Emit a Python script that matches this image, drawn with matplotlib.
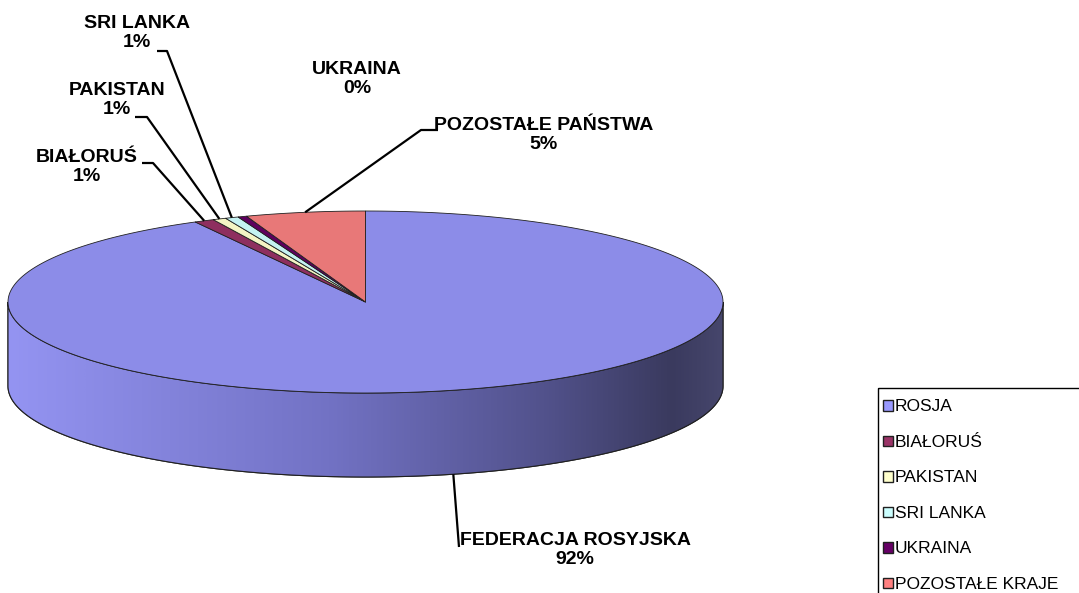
import numpy as np
import matplotlib.pyplot as plt
from matplotlib.patches import Polygon, Rectangle, Patch
from matplotlib.colors import LinearSegmentedColormap

# dane
kraje = ["ROSJA", "BIAŁORUŚ", "PAKISTAN", "SRI LANKA", "UKRAINA", "POZOSTAŁE KRAJE"]
etykiety = ["FEDERACJA ROSYJSKA", "BIAŁORUŚ", "PAKISTAN", "SRI LANKA", "UKRAINA", "POZOSTAŁE PAŃSTWA"]
udzialy = [92.1, 0.9, 0.6, 0.6, 0.4, 5.4]
kolory = ["#8C8CE8", "#8E2F5F", "#F4F4C4", "#C4F2F2", "#5E005E", "#E87878"]
kolory_leg = ["#9999FF", "#993366", "#FFFFCC", "#CCFFFF", "#660066", "#FF8080"]

# geometria wykresu (piksele)
cx, cy, rx, ry, gl = 365.5, 302, 357.5, 91, 84

fig = plt.figure(figsize=(10.79, 5.93), dpi=100)
ax = fig.add_axes([0, 0, 1, 1])
ax.set_xlim(0, 1079)
ax.set_ylim(593, 0)
ax.axis("off")


def punkt(t, dy=0):
    t = np.radians(t)
    return cx + rx * np.cos(t), cy - ry * np.sin(t) + dy


# katy wycinkow (od godz. 12, zgodnie z ruchem wskazowek)
suma = np.cumsum([0] + udzialy) / sum(udzialy) * 360
poczatki = 90 - suma[:-1]
konce = 90 - suma[1:]

# sciana boczna
grad = LinearSegmentedColormap.from_list(
    "bok", [(0, "#9494F2"), (0.45, "#7272C4"), (0.75, "#52528C"), (0.93, "#3A3A5E"), (1, "#46466C")])
for i in range(len(udzialy)):
    a = max(konce[i], -180)
    b = min(poczatki[i], 0)
    if a >= b:
        continue
    t = np.linspace(a, b, 200)
    gx, gy = punkt(t)
    dx, dy = punkt(t[::-1], gl)
    poly = Polygon(np.column_stack([np.r_[gx, dx], np.r_[gy, dy]]), closed=True,
                   facecolor=kolory[i], edgecolor="#202020", lw=0.8)
    ax.add_patch(poly)
    if i == 0:
        img = ax.imshow(np.linspace(0, 1, 512)[None, :], cmap=grad, aspect="auto",
                        extent=(cx - rx, cx + rx, cy + ry + gl, cy - ry), zorder=2)
        img.set_clip_path(poly)
        ax.add_patch(Polygon(poly.get_xy(), closed=True, fill=False, edgecolor="#202020", lw=0.8, zorder=3))

# gorna powierzchnia
for i in range(len(udzialy)):
    t = np.linspace(poczatki[i], konce[i], 400)
    x, y = punkt(t)
    ax.add_patch(Polygon(np.column_stack([np.r_[cx, x], np.r_[cy, y]]), closed=True,
                         facecolor=kolory[i], edgecolor="#202020", lw=0.6, zorder=4))

# etykiety danych i linie odniesienia
pozycje = [(575, 550), (87, 167), (117, 100), (137, 33), (357, 79), (544, 135)]
linie = [[(459, 547)], [(142, 163), (153, 163)], [(135, 117), (147, 117)],
         [(157, 51), (167, 51)], [], [(438, 130), (421, 130)]]
srodki = (poczatki + konce) / 2
for i in range(len(udzialy)):
    tekst = f"{etykiety[i]}\n{round(udzialy[i])}%"
    ax.text(pozycje[i][0], pozycje[i][1], tekst, ha="center", va="center",
            fontsize=14, fontweight="bold", family=["Liberation Sans", "DejaVu Sans"],
            linespacing=1.12, zorder=6)
    if linie[i]:
        if i == 0:
            kot = punkt(srodki[i], gl)
        else:
            kot = punkt(srodki[i])
        pts = np.array(linie[i] + [kot])
        ax.plot(pts[:, 0], pts[:, 1], color="black", lw=1.6, zorder=5, solid_capstyle="butt")

# legenda
ax.add_patch(Rectangle((878, 388), 400, 300, fill=False, edgecolor="black", lw=1, clip_on=False))
uchwyty = [Patch(facecolor=kolory_leg[i], edgecolor="#202020", lw=1) for i in range(len(kraje))]
ax.legend(uchwyty, kraje, loc="upper left", bbox_to_anchor=(880, 396), bbox_transform=ax.transData,
          frameon=False, handlelength=0.55, handleheight=0.55, handletextpad=0.1,
          labelspacing=1.18, borderpad=0.2, borderaxespad=0,
          prop={"family": ["Liberation Sans", "DejaVu Sans"], "size": 12.5})

fig.savefig("out.png", dpi=100)
